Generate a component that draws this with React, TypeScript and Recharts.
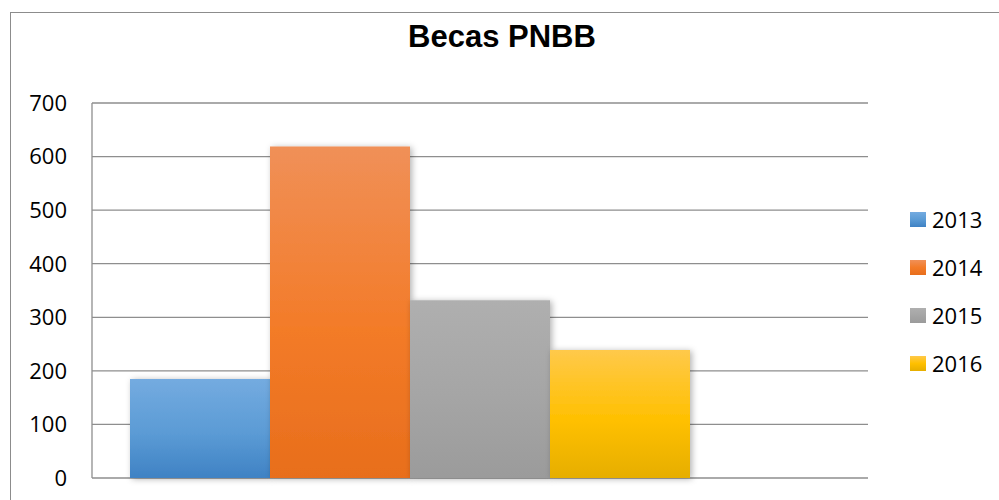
import React from 'react';
import { BarChart, Bar, XAxis, YAxis, CartesianGrid } from 'recharts';

// Valores
const categorias = ['Becas PNBB'];
const becas2013 = [185];
const becas2014 = [619];
const becas2015 = [332];
const becas2016 = [239];
const vacio: Array<number | null> = [null];
const yTicks = [0, 100, 200, 300, 400, 500, 600, 700];

const series = [
  { key: '2013', top: '#74abe0', mid: '#5b9bd5', bottom: '#3f82c4' },
  { key: '2014', top: '#f09058', mid: '#f37b28', bottom: '#e86e1c' },
  { key: '2015', top: '#afafaf', mid: '#a5a5a5', bottom: '#9b9b9b' },
  { key: '2016', top: '#ffc94a', mid: '#ffc000', bottom: '#e6ae00' },
];

const data = categorias.map((name, i) => ({
  name,
  '2013': becas2013[i],
  '2014': becas2014[i],
  '2015': becas2015[i],
  '2016': becas2016[i],
  vacio: vacio[i],
}));

const font = '"Open Sans", sans-serif';

// leyenda a la derecha, fuera del área del gráfico
const Leyenda = () => (
  <div style={{ position: 'absolute', left: 910, top: 195, fontFamily: font, fontSize: 22, color: '#000' }}>
    {series.map((s) => (
      <div key={s.key} style={{ display: 'flex', alignItems: 'center', height: 48 }}>
        <div
          style={{
            width: 16,
            height: 15,
            marginRight: 6,
            background: `linear-gradient(${s.top}, ${s.mid}, ${s.bottom})`,
          }}
        />
        <span>{s.key}</span>
      </div>
    ))}
  </div>
);

const App: React.FC = () => {
  return (
    <div style={{ position: 'fixed', left: 0, top: 0, width: 999, height: 500, background: '#fff', overflow: 'hidden' }}>
      <div
        style={{
          position: 'absolute',
          left: 10,
          top: 12,
          width: 1020,
          height: 520,
          border: '1.5px solid #8c8c8c',
          boxSizing: 'border-box',
        }}
      />
      <div
        style={{
          position: 'absolute',
          left: 0,
          width: 1004,
          top: 19,
          textAlign: 'center',
          fontFamily: '"Liberation Sans", Arial, sans-serif',
          fontWeight: 'bold',
          fontSize: 31,
          color: '#000',
        }}
      >
        Becas PNBB
      </div>
      <BarChart
        width={999}
        height={500}
        data={data}
        margin={{ top: 103, right: 131, bottom: 22, left: 0 }}
        barCategoryGap={38}
        barGap={0}
        style={{ position: 'absolute', left: 0, top: 0 }}
      >
        <defs>
          {series.map((s) => (
            <linearGradient key={s.key} id={`grad${s.key}`} x1="0" y1="0" x2="0" y2="1">
              <stop offset="0%" stopColor={s.top} />
              <stop offset="55%" stopColor={s.mid} />
              <stop offset="100%" stopColor={s.bottom} />
            </linearGradient>
          ))}
          <filter id="sombra" x="-10%" y="-10%" width="130%" height="130%">
            <feDropShadow dx="2" dy="1" stdDeviation="3" floodColor="#000" floodOpacity="0.3" />
          </filter>
        </defs>
        <CartesianGrid vertical={false} stroke="#8e8e8e" strokeWidth={1.3} />
        <XAxis dataKey="name" tick={false} height={0} axisLine={{ stroke: '#8e8e8e', strokeWidth: 1.3 }} tickLine={false} />
        <YAxis
          width={92}
          domain={[0, 700]}
          ticks={yTicks}
          interval={0}
          tickLine={false}
          tickSize={0}
          tickMargin={25}
          axisLine={{ stroke: '#8e8e8e', strokeWidth: 1.3 }}
          tick={{ fill: '#000', fontSize: 22, fontFamily: font }}
        />
        {series.map((s) => (
          <Bar key={s.key} dataKey={s.key} fill={`url(#grad${s.key})`} filter="url(#sombra)" isAnimationActive={false} />
        ))}
        <Bar dataKey="vacio" legendType="none" fill="none" isAnimationActive={false} />
      </BarChart>
      <Leyenda />
    </div>
  );
};

export default App;
